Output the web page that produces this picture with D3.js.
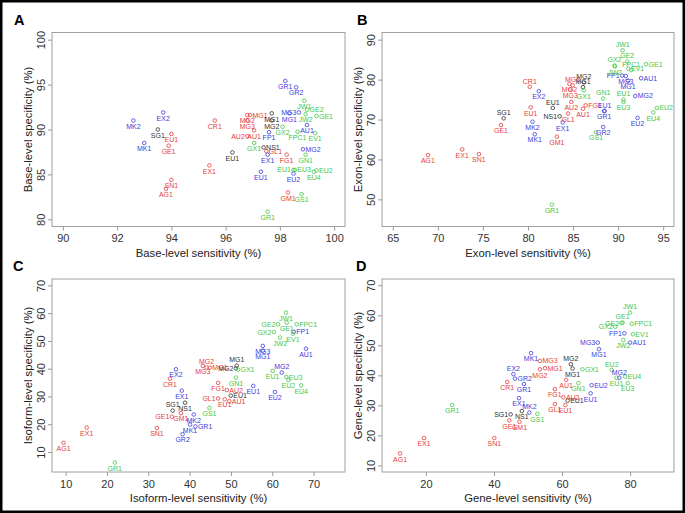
<!DOCTYPE html>
<html>
<head>
<meta charset="utf-8">
<script src="https://cdn.jsdelivr.net/npm/d3@7"></script>
<style>
  html, body { margin: 0; padding: 0; background: #fff; }
  svg { display: block; font-family: "Liberation Sans", Arial, Helvetica, sans-serif; }
</style>
</head>
<body>
<svg id="chart" width="685" height="513"></svg>
<script>
// ---------- DATA ----------
const teams = ["CR1","MG1","MG2","MG3","EU1","GE1","AU2","FG1","AU1","GL1","GM1","AG1","EX1","SN1",
  "SG1","EU1","NS1","MG2","MG1",
  "EX2","MK2","MK1","EX1","FP1","MG3","MG1","AU1","MG2","EU1","GR1","GR2","EU2",
  "JW1","GE2","GX2","FPC1","GE1","JW2","EV1","GX1","GN1","EU1","EU3","EU2","EU4","GS1","GR1"];
const groups = ["r","r","r","r","r","r","r","r","r","r","r","r","r","r",
  "k","k","k","k","k",
  "b","b","b","b","b","b","b","b","b","b","b","b","b",
  "g","g","g","g","g","g","g","g","g","g","g","g","g","g","g"];

// Panel A: base level
const baseSens = [95.6,96.9,96.8,96.8,94.0,93.9,96.8,98.25,97.05,97.5,98.3,93.8,95.4,94.0,
  93.5,96.25,97.4,97.7,97.7,
  93.7,92.6,93.0,97.55,97.6,98.7,98.35,99.0,98.85,97.3,98.2,98.6,98.5,
  98.9,99.0,98.1,98.65,99.35,98.95,99.3,97.05,98.95,98.5,98.55,99.35,99.25,98.8,97.55];
const baseSpec = [91.0,91.6,91.6,91.0,89.5,88.2,89.25,87.2,89.9,87.6,83.0,83.4,86.0,84.4,
  90.0,87.45,88.0,91.0,91.8,
  91.9,91.0,88.5,87.2,89.7,91.9,91.8,90.5,87.8,85.3,95.4,94.7,85.1,
  93.2,92.2,90.3,89.75,91.5,91.7,89.6,88.5,87.2,85.5,85.5,85.45,85.3,82.8,80.85];
const baseLabelPos = [1,4,1,1,1,1,2,1,1,4,1,1,1,1, 1,1,4,1,1, 1,1,1,1,1,2,1,1,4,1,1,1,1,
  1,4,1,1,4,1,1,1,1,2,4,4,1,1,1];

// Panel B: exon level
const exonSens = [80.2,84.95,84.6,84.7,80.3,77.0,84.8,86.4,86.1,84.45,83.2,68.9,72.7,74.55,
  77.3,82.75,83.5,86.2,86.1,
  81.2,80.5,80.75,83.85,90.45,90.85,91.1,92.55,91.9,88.5,88.45,88.35,92.15,
  90.5,91.0,89.6,91.45,93.1,89.65,91.15,86.2,88.35,90.6,90.6,94.3,93.9,87.55,82.65];
const exonSpec = [78.2,78.6,78.9,77.5,73.05,68.6,74.4,73.55,72.7,71.5,65.7,61.1,62.5,61.35,
  70.3,72.9,70.8,79.3,78.1,
  77.1,69.45,66.3,69.3,81.0,80.9,79.75,80.35,75.9,72.15,72.1,68.1,70.4,
  87.35,84.5,83.5,82.4,83.85,83.3,82.7,77.3,75.25,75.0,74.4,72.9,71.8,66.8,48.7];
const exonLabelPos = [3,3,1,1,1,1,1,4,1,1,1,1,1,1, 3,3,2,3,3, 1,1,1,1,2,1,1,4,4,3,1,1,1,
  3,3,3,3,4,1,4,1,3,3,1,4,1,1,1];

// Panel C: isoform level
const isoSens = [35.25,44.9,44.1,43.2,48.5,35.7,49.0,46.9,49.6,46.9,37.9,9.5,15.1,32.1,
  35.9,49.95,38.9,51.2,51.4,
  36.7,41.0,40.1,38.1,65.2,57.7,57.7,68.15,62.3,55.4,41.4,38.3,60.65,
  63.3,61.4,60.4,65.9,63.5,61.9,65.0,51.7,51.2,60.1,63.4,63.9,67.0,44.8,21.9];
const isoSpec = [36.4,40.4,40.4,41.0,29.0,22.7,32.3,34.9,28.3,29.3,24.0,13.3,18.8,18.6,
  24.9,30.3,27.75,40.1,41.1,
  39.8,23.5,19.9,32.1,53.3,48.2,46.5,47.2,38.6,33.8,19.2,16.4,31.6,
  60.2,56.0,53.2,56.0,56.6,51.2,52.6,39.7,36.8,39.2,37.0,35.9,34.0,25.9,6.2];
const isoLabelPos = [1,4,3,1,1,2,4,1,4,2,1,1,1,1, 3,4,1,2,3, 1,1,1,1,4,1,1,1,3,1,4,1,1,
  1,2,2,4,1,1,1,4,1,1,4,1,1,1,1];

// Panel D: gene level
const geneSens = [43.9,55.0,53.5,53.5,61.0,44.5,60.4,57.9,61.2,57.9,47.5,12.4,19.45,40.1,
  44.9,61.65,48.2,62.6,63.1,
  45.7,50.4,50.9,47.35,78.3,70.5,70.85,80.0,76.85,68.4,48.8,46.2,68.7,
  80.0,77.5,75.65,80.5,77.8,78.0,80.8,66.0,64.8,76.0,79.3,74.6,78.5,52.75,27.75];
const geneSpec = [37.8,42.4,42.0,44.8,30.1,25.0,32.7,35.4,38.5,30.4,24.5,14.0,19.1,19.1,
  27.0,31.6,28.1,43.7,42.3,
  40.4,27.6,47.4,32.4,54.0,50.9,48.7,50.9,39.2,34.0,37.1,38.9,36.7,
  60.9,57.4,56.2,57.2,57.6,51.8,53.7,42.0,37.4,39.2,37.4,41.8,39.6,27.2,30.1];
const geneLabelPos = [1,4,1,4,1,1,4,1,1,1,1,1,1,1, 2,4,1,3,1, 3,3,1,1,2,2,1,4,3,1,1,4,4,
  3,2,2,4,3,1,4,4,1,1,1,3,4,1,1];

const ticksA_x = [90,92,94,96,98,100], ticksA_y = [80,85,90,95,100];
const ticksB_x = [65,70,75,80,85,90,95], ticksB_y = [50,60,70,80,90];
const ticksC_x = [10,20,30,40,50,60,70], ticksC_y = [10,20,30,40,50,60,70];
const ticksD_x = [20,40,60,80], ticksD_y = [10,20,30,40,50,60,70];

// ---------- STYLE / LAYOUT ----------
const colors = { r: "#e63c3c", b: "#3c3cdc", g: "#46c646", k: "#303030" };

const panels = [
  { letter: "A", sx: baseSens, sy: baseSpec, pos: baseLabelPos,
    box: [52, 345, 32.5, 226.5], xd: [89.6, 100.4], yd: [79.2, 100.8], xt: ticksA_x, yt: ticksA_y,
    xTitle: "Base-level sensitivity (%)", yTitle: "Base-level specificity (%)", lx: 14, ly: 25 },
  { letter: "B", sx: exonSens, sy: exonSpec, pos: exonLabelPos,
    box: [382, 674, 32.5, 226.5], xd: [63.8, 96.2], yd: [43.2, 91.8], xt: ticksB_x, yt: ticksB_y,
    xTitle: "Exon-level sensitivity (%)", yTitle: "Exon-level specificity (%)", lx: 357, ly: 25 },
  { letter: "C", sx: isoSens, sy: isoSpec, pos: isoLabelPos,
    box: [52, 345, 279, 472], xd: [6.7, 77.6], yd: [2.8, 72.3], xt: ticksC_x, yt: ticksC_y,
    xTitle: "Isoform-level sensitivity (%)", yTitle: "Isoform-level specificity (%)", lx: 13, ly: 271 },
  { letter: "D", sx: geneSens, sy: geneSpec, pos: geneLabelPos,
    box: [382, 674, 279, 472], xd: [7.1, 92.9], yd: [7.8, 72.1], xt: ticksD_x, yt: ticksD_y,
    xTitle: "Gene-level sensitivity (%)", yTitle: "Gene-level specificity (%)", lx: 356, ly: 271 }
];

const svg = d3.select("#chart");
svg.append("rect").attr("x", 0).attr("y", 0).attr("width", 685).attr("height", 513).attr("fill", "#fff");

panels.forEach(p => {
  const [x0, x1, y0, y1] = p.box;
  const x = d3.scaleLinear().domain(p.xd).range([x0, x1]);
  const y = d3.scaleLinear().domain(p.yd).range([y1, y0]);
  const g = svg.append("g");

  // axes
  const gx = g.append("g").attr("transform", `translate(0,${y1})`)
    .call(d3.axisBottom(x).tickValues(p.xt).tickSize(4).tickSizeOuter(0).tickPadding(4));
  gx.select(".domain").remove();
  gx.selectAll(".tick line").attr("stroke", "#999");
  gx.selectAll(".tick text").attr("fill", "#333").attr("font-size", 11)
    .attr("font-family", "Liberation Sans, Arial, sans-serif").attr("dy", "0").attr("y", 15.5);

  const gy = g.append("g").attr("transform", `translate(${x0},0)`)
    .call(d3.axisLeft(y).tickValues(p.yt).tickSize(4).tickSizeOuter(0));
  gy.select(".domain").remove();
  gy.selectAll(".tick line").attr("stroke", "#999");
  gy.selectAll(".tick text").attr("fill", "#333").attr("font-size", 11)
    .attr("font-family", "Liberation Sans, Arial, sans-serif")
    .attr("transform", "rotate(-90)").attr("x", 0).attr("y", -7).attr("dy", "0")
    .attr("text-anchor", "middle");

  // box
  g.append("rect").attr("x", x0).attr("y", y0).attr("width", x1 - x0).attr("height", y1 - y0)
    .attr("fill", "none").attr("stroke", "#a0a0a0").attr("stroke-width", 1);

  // titles
  g.append("text").attr("x", (x0 + x1) / 2).attr("y", y1 + 30).attr("text-anchor", "middle")
    .attr("font-size", 11.3).attr("fill", "#222").text(p.xTitle);
  g.append("text").attr("transform", `translate(${x0 - 20},${(y0 + y1) / 2}) rotate(-90)`)
    .attr("text-anchor", "middle").attr("font-size", 11.3).attr("fill", "#222").text(p.yTitle);
  svg.append("text").attr("x", p.lx).attr("y", p.ly).attr("font-size", 14.5)
    .attr("font-weight", "bold").attr("fill", "#000").text(p.letter);

  // points
  const data = teams.map((t, i) => ({ name: t, grp: groups[i], vx: p.sx[i], vy: p.sy[i], pos: p.pos[i] }));
  g.selectAll("circle.pt").data(data).join("circle").attr("class", "pt")
    .attr("cx", d => x(d.vx)).attr("cy", d => y(d.vy)).attr("r", 1.8)
    .attr("fill", "none").attr("stroke", d => colors[d.grp]).attr("stroke-width", 0.8);

  g.selectAll("text.lab").data(data).join("text").attr("class", "lab")
    .attr("font-size", 7).attr("fill", d => colors[d.grp])
    .attr("x", d => {
      const px = x(d.vx);
      return d.pos === 2 ? px - 2.5 : d.pos === 4 ? px + 2.5 : px;
    })
    .attr("y", d => {
      const py = y(d.vy);
      return d.pos === 1 ? py + 8.2 : d.pos === 3 ? py - 3.2 : py + 2.5;
    })
    .attr("text-anchor", d => d.pos === 2 ? "end" : d.pos === 4 ? "start" : "middle")
    .text(d => d.name);
});

// outer frame
svg.append("rect").attr("x", 1.25).attr("y", 1.25).attr("width", 682.5).attr("height", 510.5)
  .attr("fill", "none").attr("stroke", "#000").attr("stroke-width", 2.5);
</script>
</body>
</html>
